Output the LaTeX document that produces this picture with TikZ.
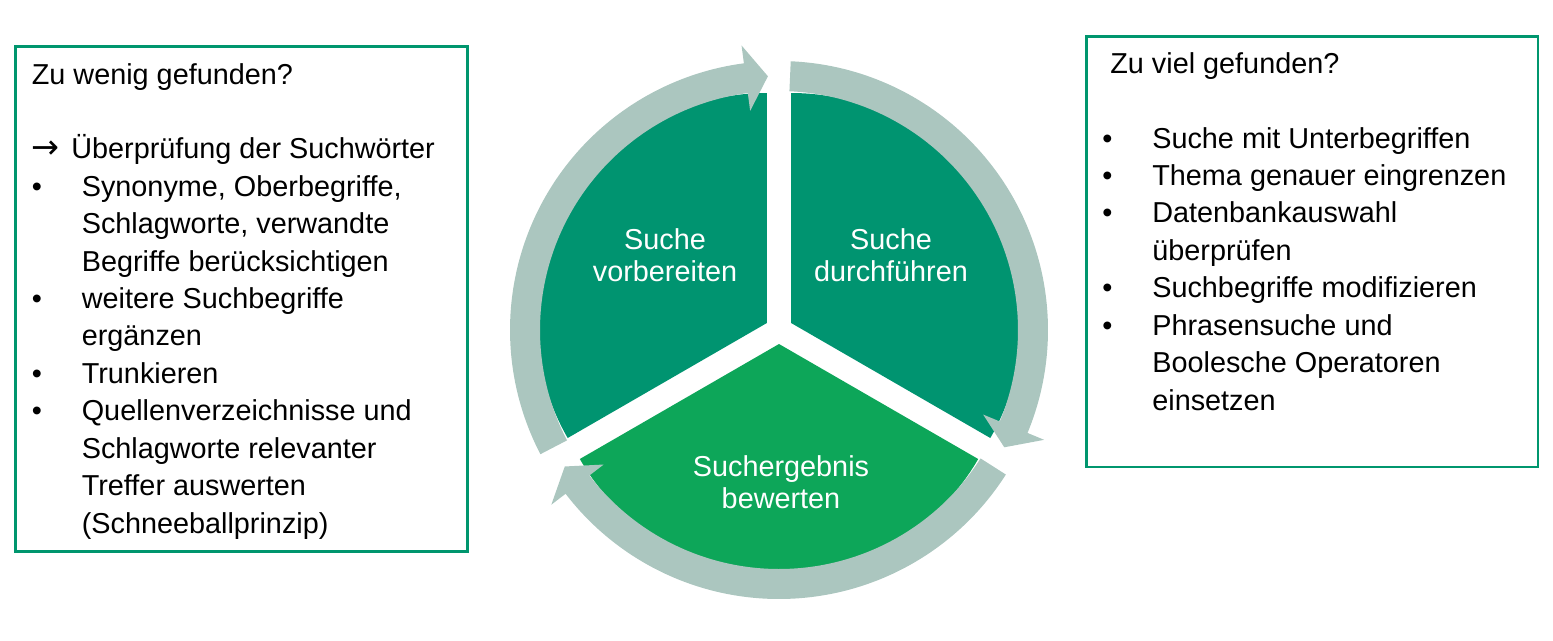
\documentclass[tikz,border=0pt]{standalone}
\usepackage{fontspec}
\setmainfont{Liberation Sans}
\newfontfamily\pfeilfont{DejaVu Sans}
\usepackage{tikz}

\definecolor{segdark}{RGB}{0,148,112}
\definecolor{seglight}{RGB}{13,166,89}
\definecolor{ringgrey}{RGB}{171,198,191}
\definecolor{boxline}{RGB}{0,150,110}

\tikzset{
  sektor/.style={fill=segdark},
  ringpfeil/.style={fill=ringgrey},
  kasten/.style={draw=boxline,line width=0.055cm},
  liste/.style={anchor=base west,inner sep=0pt,font=\fontsize{16.4pt}{21.3pt}\selectfont},
  phase/.style={text=white,align=center,inner sep=0pt,font=\fontsize{16.4pt}{18pt}\selectfont}
}

\begin{document}
\begin{tikzpicture}[x=0.02cm,y=-0.02cm]
\useasboundingbox (0,0) rectangle (1553,640);
% Kreislauf
\begin{scope}[shift={(779,330)},y=0.02cm]
  \fill[sektor] (150:14) -- +(90:230) arc[start angle=90,end angle=210,radius=230] -- cycle;
  \fill[sektor] (30:14) -- +(-30:230) arc[start angle=-30,end angle=90,radius=230] -- cycle;
  \fill[sektor,fill=seglight] (270:14) -- +(210:230) arc[start angle=210,end angle=330,radius=230] -- cycle;
  \foreach \s in {207.5,87.5,-32.5}
    \fill[ringpfeil] (\s:269) arc[start angle=\s,end angle=\s-110,radius=269]
      -- ({\s-110}:287) -- ({\s-115}:254) -- ({\s-110}:221) -- ({\s-110}:239)
      arc[start angle=\s-110,end angle=\s,radius=239] -- cycle;
\end{scope}
\node[phase] (vorb) at (665,255) {Suche\\vorbereiten};
\node[phase] (durch) at (891,255) {Suche\\durchführen};
\node[phase] (bewert) at (781,482) {Suchergebnis\\bewerten};
% Kaesten
\draw[kasten] (15.3,46.3) rectangle (467.5,551.3);
\draw[kasten] (1086.3,36.7) rectangle (1538,467);
\node[liste] (wenig) at (31.5,84) {\begin{tabular}[t]{@{}p{1cm}@{}l@{}}
  \multicolumn{2}{@{}l@{}}{Zu wenig gefunden?}\\
  \\
  \multicolumn{2}{@{}l@{}}{\makebox[0.79cm][l]{\pfeilfont\fontsize{19pt}{21.3pt}\selectfont →}Überprüfung der Suchwörter}\\
  • & Synonyme, Oberbegriffe,\\
    & Schlagworte, verwandte\\
    & Begriffe berücksichtigen\\
  • & weitere Suchbegriffe\\
    & ergänzen\\
  • & Trunkieren\\
  • & Quellenverzeichnisse und\\
    & Schlagworte relevanter\\
    & Treffer auswerten\\
    & (Schneeballprinzip)
\end{tabular}};
\node[liste] (viel) at (1102,73.3) {\begin{tabular}[t]{@{}p{1cm}@{}l@{}}
  \multicolumn{2}{@{}l@{}}{\hspace{0.16cm}Zu viel gefunden?}\\
  \\
  • & Suche mit Unterbegriffen\\
  • & Thema genauer eingrenzen\\
  • & Datenbankauswahl\\
    & überprüfen\\
  • & Suchbegriffe modifizieren\\
  • & Phrasensuche und\\
    & Boolesche Operatoren\\
    & einsetzen
\end{tabular}};
\end{tikzpicture}
\end{document}
